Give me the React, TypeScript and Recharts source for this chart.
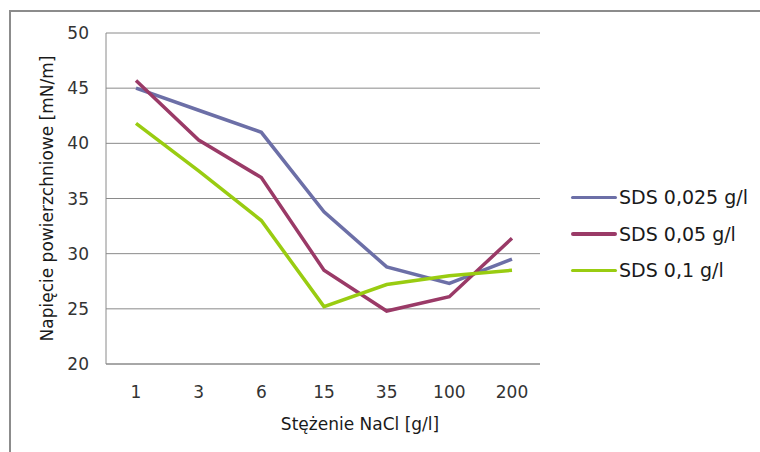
import { LineChart, Line, XAxis, YAxis, CartesianGrid } from 'recharts';

// NaCl concentration [g/l] on the category axis
const naclLevels = ['1', '3', '6', '15', '35', '100', '200'];

// surface tension [mN/m] for each SDS concentration
const sds0025 = [45.0, 43.0, 41.0, 33.8, 28.8, 27.3, 29.5];
const sds005 = [45.7, 40.3, 36.9, 28.5, 24.8, 26.1, 31.4];
const sds01 = [41.8, 37.5, 33.0, 25.2, 27.2, 28.0, 28.5];

const yTicks = [20, 25, 30, 35, 40, 45, 50];

const series = [
  { key: 'a', name: 'SDS 0,025 g/l', color: '#6c6fa7' },
  { key: 'b', name: 'SDS 0,05 g/l', color: '#9a3a67' },
  { key: 'c', name: 'SDS 0,1 g/l', color: '#99cc11' },
];

const data = naclLevels.map((nacl, i) => ({
  nacl,
  a: sds0025[i],
  b: sds005[i],
  c: sds01[i],
}));

const FONT = '"DejaVu Sans", sans-serif';
const GRID = '#8a8a8a';

function SeriesLegend() {
  return (
    <div
      style={{
        position: 'absolute',
        left: 571,
        top: 179,
        fontFamily: FONT,
        fontSize: 19,
        color: '#1a1a1a',
      }}
    >
      {series.map((s) => (
        <div key={s.key} style={{ display: 'flex', alignItems: 'center', height: 36.5 }}>
          <div style={{ width: 46, height: 3.5, background: s.color, borderRadius: 2, marginRight: 2 }} />
          <span style={{ whiteSpace: 'nowrap' }}>{s.name}</span>
        </div>
      ))}
    </div>
  );
}

export default function App() {
  return (
    <div
      style={{
        position: 'absolute',
        left: 0,
        top: 0,
        width: 760,
        height: 452,
        background: '#fff',
        overflow: 'hidden',
      }}
    >
      <div
        style={{
          position: 'absolute',
          left: 9,
          top: 10,
          width: 800,
          height: 500,
          borderTop: '2px solid #8c8c8c',
          borderLeft: '2px solid #8c8c8c',
          boxSizing: 'border-box',
        }}
      />
      <LineChart
        width={760}
        height={452}
        data={data}
        margin={{ top: 33, right: 220, bottom: 0, left: 0 }}
        style={{ position: 'absolute', left: 0, top: 0 }}
      >
        <CartesianGrid vertical={false} stroke={GRID} strokeWidth={1} />
        <XAxis
          dataKey="nacl"
          height={88}
          padding={{ left: 30, right: 28 }}
          axisLine={{ stroke: GRID }}
          tickLine={false}
          tickSize={0}
          tickMargin={22}
          tick={{ fontFamily: FONT, fontSize: 17, fill: '#333' }}
          label={{
            value: 'Stężenie NaCl [g/l]',
            position: 'insideBottom',
            offset: 22,
            dx: 37,
            style: { fontFamily: FONT, fontSize: 17, fill: '#1a1a1a' },
          }}
        />
        <YAxis
          width={106}
          domain={[20, 50]}
          ticks={yTicks}
          interval={0}
          axisLine={{ stroke: GRID }}
          tickLine={false}
          tickSize={0}
          tickMargin={17}
          tick={{ fontFamily: FONT, fontSize: 17, fill: '#333' }}
          label={{
            value: 'Napięcie powierzchniowe [mN/m]',
            angle: -90,
            position: 'center',
            dx: -6,
            style: { fontFamily: FONT, fontSize: 17, fill: '#1a1a1a', textAnchor: 'middle' },
          }}
        />
        {series.map((s) => (
          <Line
            key={s.key}
            dataKey={s.key}
            name={s.name}
            stroke={s.color}
            strokeWidth={3.5}
            dot={false}
            activeDot={false}
            isAnimationActive={false}
          />
        ))}
      </LineChart>
      <SeriesLegend />
    </div>
  );
}
